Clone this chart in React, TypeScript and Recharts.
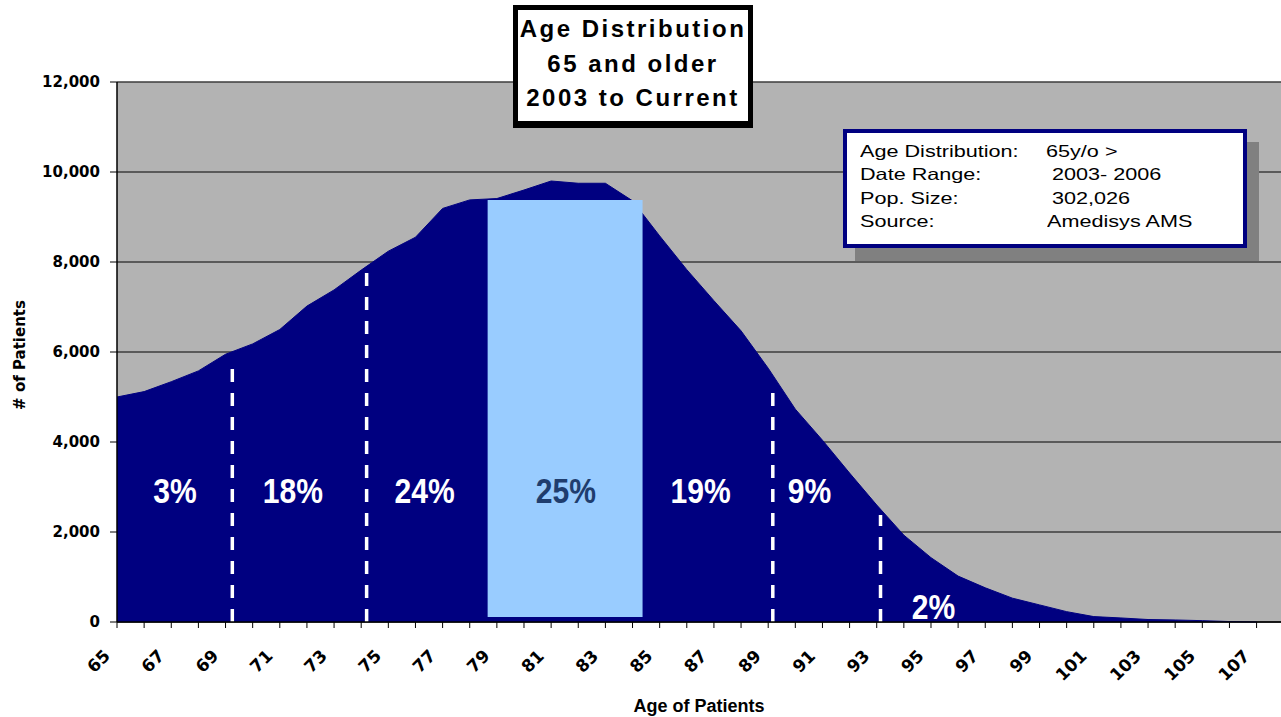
import React from 'react';
import {
  AreaChart,
  Area,
  XAxis,
  YAxis,
  CartesianGrid,
  ReferenceArea,
  ReferenceLine,
  ReferenceDot,
} from 'recharts';

// ---- data ----
const ages = [
  65, 66, 67, 68, 69, 70, 71, 72, 73, 74, 75, 76, 77, 78, 79, 80, 81, 82, 83, 84, 85, 86,
  87, 88, 89, 90, 91, 92, 93, 94, 95, 96, 97, 98, 99, 100, 101, 102, 103, 104, 105, 106, 107,
];
const patients = [
  5000, 5120, 5340, 5580, 5950, 6180, 6500, 7020, 7380, 7820, 8240, 8550, 9190, 9380, 9410,
  9600, 9800, 9750, 9750, 9360, 8580, 7830, 7140, 6470, 5640, 4730, 4040, 3310, 2600, 1930,
  1430, 1020, 760, 530, 380, 230, 120, 90, 55, 45, 30, 10, 0,
];
const yTicks = [0, 2000, 4000, 6000, 8000, 10000, 12000];

// dashed age-group dividers (age, height in patients)
const dividerAges = [69.25, 74.2, 89.17, 93.14];
const dividerTops = [5710, 7820, 5200, 2380];

// highlighted band (ages 79-84)
const bandAges = [78.66, 84.37];
const bandValues = [111, 9378];

// percentage annotations
const pctTexts = ['3%', '18%', '24%', '25%', '19%', '9%', '2%'];
const pctAges = [67.14, 71.48, 76.34, 81.54, 86.51, 90.52, 95.09];
const pctValues = [2640, 2640, 2640, 2640, 2640, 2640, 67];

const infoLabels = ['Age Distribution:', 'Date Range:', 'Pop. Size:', 'Source:'];
const infoValues = ['65y/o >', '2003- 2006', '302,026', 'Amedisys AMS'];
const infoValueLeft = [1046, 1052, 1052, 1047];

const titleLines = ['Age Distribution', '65 and older', '2003 to Current'];

const data = ages.map((age, i) => ({ age, patients: patients[i] }));

const NAVY = '#000080';
const LIGHT = '#99ccff';

const XTick = (props: any) => {
  const { x, y, payload } = props;
  if (payload.value % 2 === 0) return <g />;
  const ax = x - 6;
  const ay = y + 27;
  return (
    <text
      x={ax}
      y={ay}
      transform={`rotate(-45 ${ax} ${ay})`}
      textAnchor="end"
      fontFamily="'DejaVu Sans', sans-serif"
      fontWeight="bold"
      fontSize={17}
      fill="#000"
    >
      {payload.value}
    </text>
  );
};

export default function App() {
  return (
    <div
      style={{
        position: 'relative',
        width: 1281,
        height: 717,
        background: '#fff',
        overflow: 'hidden',
        fontFamily: "'Liberation Sans', Arial, sans-serif",
      }}
    >
      <style>{`body{margin:0;background:#fff;}`}</style>
      <AreaChart
        width={1281}
        height={717}
        data={data}
        margin={{ top: 82, right: 0, bottom: 0, left: 0 }}
      >
        <CartesianGrid
          vertical={false}
          fill="#b3b3b3"
          fillOpacity={1}
          stroke="#3c3c3c"
          strokeWidth={1.5}
        />
        <XAxis
          dataKey="age"
          type="number"
          domain={[65, 107.9]}
          ticks={ages}
          interval={0}
          height={95}
          tick={<XTick />}
          tickSize={6}
          axisLine={{ stroke: '#000', strokeWidth: 1.5 }}
          tickLine={{ stroke: '#000' }}
          label={{
            content: (p: any) => {
              const vb = p.viewBox;
              return (
                <text
                  x={vb.x + vb.width / 2}
                  y={712}
                  textAnchor="middle"
                  fontFamily="'Liberation Sans', Arial, sans-serif"
                  fontWeight="bold"
                  fontSize={18}
                  fill="#000"
                >
                  Age of Patients
                </text>
              );
            },
          }}
        />
        <YAxis
          type="number"
          domain={[0, 12000]}
          ticks={yTicks}
          interval={0}
          width={117}
          tickSize={7}
          tickMargin={10}
          tickFormatter={(v: number) => v.toLocaleString('en-US')}
          tick={{
            fill: '#000',
            fontFamily: "'DejaVu Sans', sans-serif",
            fontWeight: 'bold',
            fontSize: 15,
          }}
          axisLine={{ stroke: '#000', strokeWidth: 1.5 }}
          tickLine={{ stroke: '#000' }}
          label={{
            content: (p: any) => {
              const vb = p.viewBox;
              const cx = vb.x + 25;
              const cy = vb.y + vb.height / 2 + 3;
              return (
                <text
                  x={cx}
                  y={cy}
                  transform={`rotate(-90 ${cx} ${cy})`}
                  textAnchor="middle"
                  fontFamily="'DejaVu Sans', sans-serif"
                  fontWeight="bold"
                  fontSize={15}
                  fill="#000"
                >
                  # of Patients
                </text>
              );
            },
          }}
        />
        <Area
          type="linear"
          dataKey="patients"
          stroke={NAVY}
          strokeWidth={1}
          fill={NAVY}
          fillOpacity={1}
          isAnimationActive={false}
          dot={false}
          activeDot={false}
        />
        <ReferenceArea
          x1={bandAges[0]}
          x2={bandAges[1]}
          y1={bandValues[0]}
          y2={bandValues[1]}
          fill={LIGHT}
          fillOpacity={1}
          stroke="none"
          ifOverflow="visible"
        />
        {dividerAges.map((a, i) => (
          <ReferenceLine
            key={`d${i}`}
            segment={[
              { x: a, y: 0 },
              { x: a, y: dividerTops[i] },
            ]}
            stroke="#ffffff"
            strokeWidth={3.5}
            strokeDasharray="13 11"
            ifOverflow="visible"
          />
        ))}
        {pctTexts.map((t, i) => (
          <ReferenceDot
            key={`p${i}`}
            x={pctAges[i]}
            y={pctValues[i]}
            r={0}
            ifOverflow="visible"
            shape={(p: any) => (
              <text
                x={0}
                y={0}
                transform={`translate(${p.cx} ${p.cy}) scale(0.86 1)`}
                textAnchor="middle"
                fontFamily="'Liberation Sans', Arial, sans-serif"
                fontWeight="bold"
                fontSize={35}
                fill={t === '25%' ? '#1f3d6e' : '#ffffff'}
              >
                {t}
              </text>
            )}
          />
        ))}
      </AreaChart>

      {/* Title box */}
      <div
        style={{
          position: 'absolute',
          left: 513,
          top: 5,
          width: 240,
          height: 123,
          boxSizing: 'border-box',
          border: '5px solid #000',
          borderBottomWidth: 7,
          background: '#fff',
        }}
      />
      <div
        style={{
          position: 'absolute',
          left: 513,
          top: 12,
          width: 240,
          textAlign: 'center',
          fontFamily: "'Liberation Sans', Arial, sans-serif",
          fontWeight: 'bold',
          fontSize: 24,
          lineHeight: '34.5px',
          letterSpacing: 2.5,
          color: '#000',
          whiteSpace: 'nowrap',
        }}
      >
        {titleLines.map((l, i) => (
          <div key={i}>{l}</div>
        ))}
      </div>

      {/* Info box */}
      <div
        style={{
          position: 'absolute',
          left: 843,
          top: 129,
          width: 404,
          height: 119,
          boxSizing: 'border-box',
          border: `4px solid ${NAVY}`,
          background: '#fff',
          boxShadow: '12px 13px 0 #808080',
        }}
      />
      {infoLabels.map((l, i) => (
        <React.Fragment key={`i${i}`}>
          <div
            style={{
              position: 'absolute',
              left: 860,
              top: 139.5 + i * 23.6,
              fontSize: 16.5,
              lineHeight: '23.5px',
              whiteSpace: 'nowrap',
              transform: 'scaleX(1.31)',
              transformOrigin: 'left center',
              color: '#000',
            }}
          >
            {l}
          </div>
          <div
            style={{
              position: 'absolute',
              left: infoValueLeft[i],
              top: 139.5 + i * 23.6,
              fontSize: 16.5,
              lineHeight: '23.5px',
              whiteSpace: 'nowrap',
              transform: 'scaleX(1.31)',
              transformOrigin: 'left center',
              color: '#000',
            }}
          >
            {infoValues[i]}
          </div>
        </React.Fragment>
      ))}
    </div>
  );
}
